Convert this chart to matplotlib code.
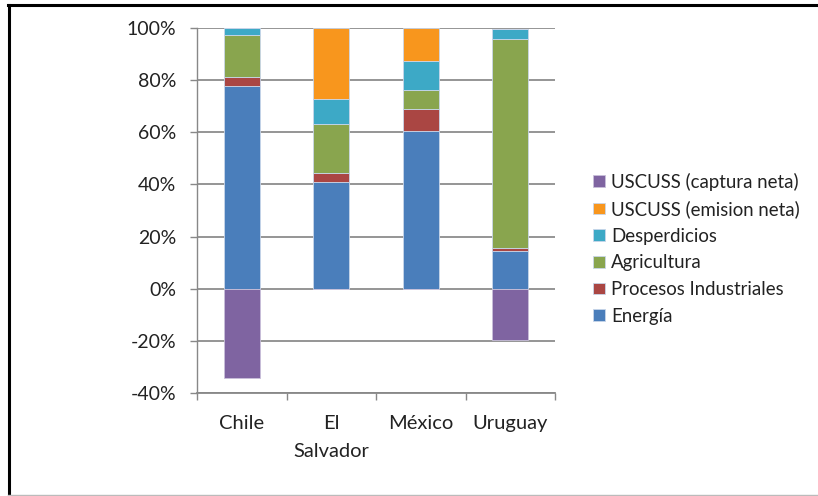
import matplotlib
matplotlib.use("Agg")
import matplotlib.pyplot as plt
from matplotlib.lines import Line2D
import numpy as np

plt.rcParams['font.family'] = ['Lato', 'DejaVu Sans']

countries = ["Chile", "El\nSalvador", "México", "Uruguay"]
energia = [77.9, 40.9, 60.5, 14.3]
procesos = [3.4, 3.3, 8.6, 1.5]
agricultura = [16.0, 19.0, 7.2, 80.1]
desperdicios = [2.7, 9.6, 10.9, 3.9]
emision = [0.0, 27.2, 12.8, 0.0]
captura = [-34.4, 0.0, 0.0, -19.5]

series = [
    ("Energía", energia, "#4A7EBB"),
    ("Procesos Industriales", procesos, "#AA4643"),
    ("Agricultura", agricultura, "#89A54E"),
    ("Desperdicios", desperdicios, "#3DA9C6"),
    ("USCUSS (emision neta)", emision, "#F8961D"),
]
captura_name = "USCUSS (captura neta)"
captura_color = "#7F64A1"

yticks = [-40, -20, 0, 20, 40, 60, 80, 100]
ytick_labels = ["-40%", "-20%", "0%", "20%", "40%", "60%", "80%", "100%"]

fig = plt.figure(figsize=(8.18, 4.96), dpi=100)
ax = fig.add_axes([197/818, 1-393/496, (555-197)/818, (393-28)/496])

x = np.arange(len(countries))
width = 0.4
bottom = np.zeros(len(countries))
handles = {}
for name, vals, col in series:
    v = np.array(vals)
    h = ax.bar(x, v, width, bottom=bottom, color=col, edgecolor="#C9D6EA",
               linewidth=0.6, label=name, zorder=3)
    handles[name] = h
    bottom += v
h = ax.bar(x, captura, width, color=captura_color, edgecolor="#C9C0DA",
           linewidth=0.6, label=captura_name, zorder=3)
handles[captura_name] = h

ax.set_ylim(-40, 100)
ax.set_xlim(-0.5, 3.5)
ax.set_yticks(yticks)
ax.set_yticklabels(ytick_labels, fontsize=14, color="#222222")
ax.set_xticks(x)
ax.set_xticklabels(countries, fontsize=14.5, color="#222222", linespacing=1.75)
ax.set_xticks(np.arange(-0.5, 4.0, 1.0), minor=True)
ax.tick_params(axis='x', which='major', length=0, pad=16)
ax.tick_params(axis='x', which='minor', length=5, color="#888888", width=1)
ax.tick_params(axis='y', which='major', length=5, color="#888888", width=1, pad=10)

ax.grid(axis='y', color="#8C8C8C", linewidth=1.3, zorder=0)
for s in ["top", "right"]:
    ax.spines[s].set_visible(False)
ax.spines["left"].set_color("#888888")
ax.spines["bottom"].set_color("#888888")
ax.spines["left"].set_linewidth(1)
ax.spines["bottom"].set_linewidth(1.3)

order = [captura_name, "USCUSS (emision neta)", "Desperdicios", "Agricultura",
         "Procesos Industriales", "Energía"]
leg = fig.legend([handles[n] for n in order], order, loc="upper left",
                 bbox_to_anchor=(586/818, 1-165/496), frameon=False,
                 fontsize=13.4, handlelength=0.6, handleheight=0.6,
                 handletextpad=0.35, labelspacing=0.52, borderaxespad=0)
for t in leg.get_texts():
    t.set_color("#222222")

# outer frame: black left/top, grey bottom
fig.add_artist(Line2D([9/818, 9/818], [1-5/496, 1-495/496], transform=fig.transFigure,
                      color="black", linewidth=2.2))
fig.add_artist(Line2D([8/818, 1.0], [1-5/496, 1-5/496], transform=fig.transFigure,
                      color="black", linewidth=2.2))
fig.add_artist(Line2D([8/818, 1.0], [1-495/496, 1-495/496], transform=fig.transFigure,
                      color="#BBBBBB", linewidth=1))

fig.savefig("out.png", dpi=100)
